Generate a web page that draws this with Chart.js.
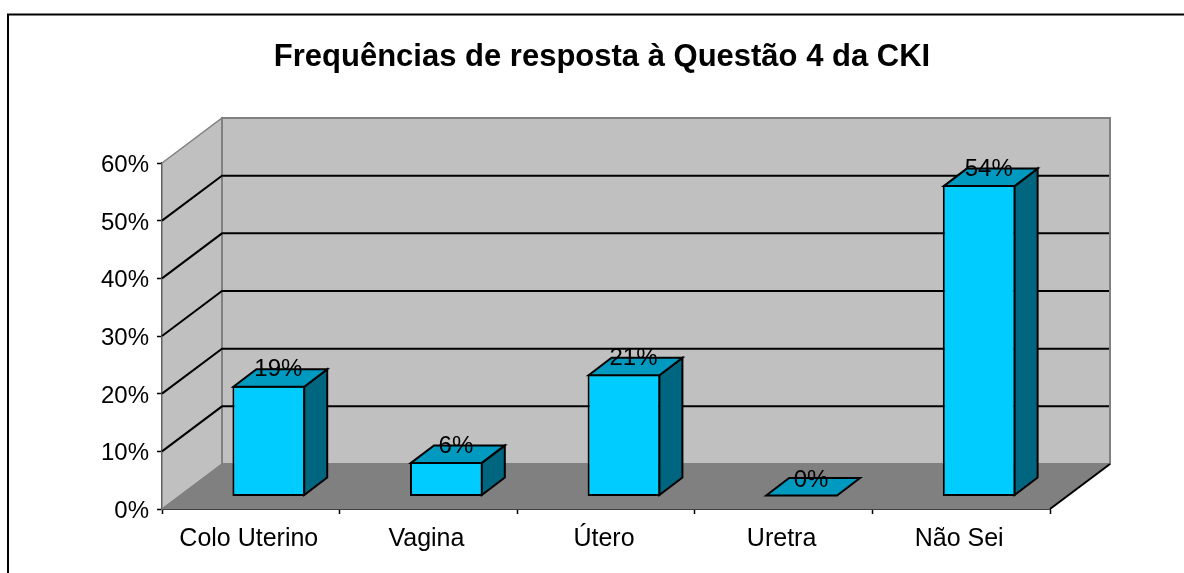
<!DOCTYPE html>
<html><head><meta charset="utf-8">
<style>html,body{margin:0;padding:0;background:#fff}canvas{display:block}</style>
<script src="https://cdn.jsdelivr.net/npm/chart.js@4"></script></head>
<body><canvas id="c" width="1184" height="573"></canvas>
<script>
const categories = ["Colo Uterino", "Vagina", "Útero", "Uretra", "Não Sei"];
const shares = [19.2, 6, 21.2, 0, 54];
const yTicks = [0, 10, 20, 30, 40, 50, 60];
const titleText = "Frequências de resposta à Questão 4 da CKI";

const FONT = "'Liberation Sans', Arial, sans-serif";
const WALL = [60, -45], BAR = [18, -12.5], BARD = [23, -17.5];

const scene = {
  id: 'scene',
  beforeDraw(ch) {
    const c = ch.ctx;
    c.save();
    c.fillStyle = '#fff'; c.fillRect(0, 0, ch.width, ch.height);
    c.strokeStyle = '#000'; c.lineWidth = 2;
    c.beginPath(); c.moveTo(8, ch.height); c.lineTo(8, 14.5); c.lineTo(ch.width, 14.5); c.stroke();
    c.restore();
  },
  beforeDatasetsDraw(ch) {
    const c = ch.ctx, a = ch.chartArea, y = ch.scales.y;
    const [dx, dy] = WALL;
    const poly = (pts, fill, stroke, lw) => {
      c.beginPath(); pts.forEach((p, i) => i ? c.lineTo(p[0], p[1]) : c.moveTo(p[0], p[1])); c.closePath();
      if (fill) { c.fillStyle = fill; c.fill(); }
      if (stroke) { c.strokeStyle = stroke; c.lineWidth = lw; c.stroke(); }
    };
    c.save();
    poly([[a.left, a.top], [a.left + dx, a.top + dy], [a.left + dx, a.bottom + dy], [a.left, a.bottom]], '#c0c0c0', '#808080', 1.5);
    poly([[a.left + dx, a.top + dy], [a.right + dx, a.top + dy], [a.right + dx, a.bottom + dy], [a.left + dx, a.bottom + dy]], '#c0c0c0', '#808080', 2);
    poly([[a.left, a.bottom], [a.left + dx, a.bottom + dy], [a.right + dx, a.bottom + dy], [a.right, a.bottom]], '#808080', '#808080', 1);
    c.strokeStyle = '#000'; c.lineWidth = 2;
    y.ticks.forEach(t => {
      if (t.value === 0 || t.value === 60) return;
      const p = y.getPixelForValue(t.value);
      c.beginPath(); c.moveTo(a.left, p); c.lineTo(a.left + dx, p + dy); c.lineTo(a.right + dx - 1, p + dy); c.stroke();
    });
    c.beginPath(); c.moveTo(a.right, a.bottom); c.lineTo(a.right + dx, a.bottom + dy); c.stroke();
    c.restore();
  },
  beforeDatasetDraw(ch) { ch.ctx.save(); ch.ctx.translate(BAR[0], BAR[1]); },
  afterDatasetDraw(ch, args) {
    const c = ch.ctx;
    c.lineWidth = 2; c.strokeStyle = '#000'; c.lineJoin = 'miter';
    const meta = ch.getDatasetMeta(args.index);
    meta.data.forEach(el => {
      const b = el.base - 1, t = Math.min(el.y + 1, b);
      const l = el.x - el.width / 2 + 1, r = el.x + el.width / 2 - 1;
      const [ox, oy] = BARD;
      const face = (pts, fill) => {
        c.beginPath(); pts.forEach((p, i) => i ? c.lineTo(p[0], p[1]) : c.moveTo(p[0], p[1])); c.closePath();
        c.fillStyle = fill; c.fill(); c.stroke();
      };
      if (b > t) face([[r, t], [r + ox, t + oy], [r + ox, b + oy], [r, b]], '#006680');
      face([[l, t], [l + ox, t + oy], [r + ox, t + oy], [r, t]], '#0099bf');
    });
    c.fillStyle = '#000'; c.font = '24px ' + FONT; c.textAlign = 'center'; c.textBaseline = 'middle';
    meta.data.forEach((el, i) => {
      c.fillText(Math.round(shares[i]) + '%', el.x + 9.5, el.y - 16);
    });
    c.restore();
  }
};

new Chart(document.getElementById('c'), {
  type: 'bar',
  data: { labels: categories, datasets: [{
    data: shares, backgroundColor: '#00ccff', borderColor: '#000', borderWidth: 2, borderSkipped: false,
    barPercentage: 0.41, categoryPercentage: 1
  }]},
  plugins: [scene],
  options: {
    responsive: false, animation: false, devicePixelRatio: 1,
    layout: { padding: { left: 20, right: 0, top: 0, bottom: 0 }, autoPadding: false },
    plugins: {
      legend: { display: false }, tooltip: { enabled: false },
      title: { display: true, text: titleText, color: '#000', align: 'center',
        font: { family: FONT, size: 31, weight: 'bold', lineHeight: 1.2 },
        padding: { top: 39, bottom: 86.8 } }
    },
    scales: {
      x: {
        grid: { drawOnChartArea: false, drawTicks: true, tickLength: 5, tickColor: '#000', tickWidth: 1.5, offset: true },
        border: { color: '#000', width: 2 },
        ticks: { color: '#000', font: { family: FONT, size: 25 }, padding: 10, labelOffset: -2, maxRotation: 0, autoSkip: false },
        afterFit(s) { s.height = 64; }
      },
      y: {
        min: 0, max: 60, afterBuildTicks(s) { s.ticks = yTicks.map(v => ({ value: v })); },
        grid: { drawOnChartArea: false, drawTicks: true, tickLength: 5, tickColor: '#000', tickWidth: 1.5 },
        border: { color: '#000', width: 2 },
        ticks: { color: '#000', font: { family: FONT, size: 24 }, padding: 8, labelOffset: 2.5, callback: v => v + '%' },
        afterFit(s) { s.width = 142; }
      },
      pad: {
        position: 'right', display: true, min: 0, max: 1,
        grid: { display: false }, border: { display: false }, ticks: { display: false },
        afterFit(s) { s.width = 134; }
      }
    }
  }
});
</script></body></html>
